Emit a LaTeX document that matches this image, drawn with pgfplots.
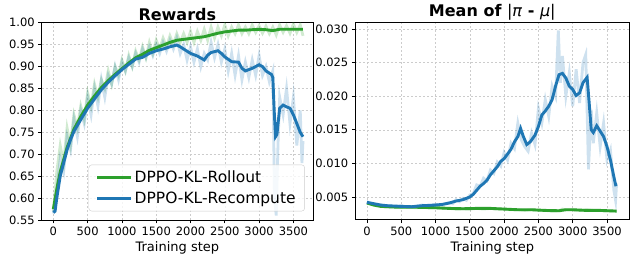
\documentclass[border=0pt]{standalone}
\usepackage{fontspec}
\setmainfont{DejaVu Sans}
\usepackage{pgfplots}
\pgfplotsset{compat=1.18}
\definecolor{tabblue}{HTML}{1F77B4}
\definecolor{tabgreen}{HTML}{2CA02C}
\pgfplotsset{mystyle/.style={
  scale only axis,
  axis line style={black, line width=0.8pt},
  grid=major,
  grid style={dash pattern=on 2pt off 2pt, black!20, line width=0.5pt},
  tick align=outside, xtick pos=bottom, ytick pos=left,
  major tick length=3.5pt,
  tick style={black, line width=0.8pt},
  xtick={0,500,1000,1500,2000,2500,3000,3500},
  ticklabel style={font=\fontsize{11.5}{13}\selectfont},
  /pgf/number format/assume math mode=true,
  x tick label style={/pgf/number format/1000 sep={}},
  xlabel={Training step},
  xlabel style={font=\fontsize{13}{15}\selectfont, yshift=1pt},
  title style={font=\fontsize{16}{18}\selectfont\bfseries, yshift=-8pt},
  rawline/.style={line width=2.8pt, opacity=0.22},
  smoothline/.style={line width=2.9pt},
}}
\begin{document}
\begin{tikzpicture}
\begin{axis}[mystyle,
  at={(41.7pt,36pt)}, anchor=south west,
  width=271.3pt, height=197.3pt,
  xmin=-170, xmax=3786, ymin=0.55, ymax=1.0,
  ytick={0.55,0.60,0.65,0.70,0.75,0.80,0.85,0.90,0.95,1.00},
  y tick label style={/pgf/number format/.cd, fixed, fixed zerofill, precision=2},
  title={Rewards},
  legend style={at={(0.97,0.044)}, anchor=south east, font=\fontsize{15.5}{18}\selectfont,
    draw=black!20, rounded corners=3pt, fill=white, fill opacity=0.8, text opacity=1,
    inner xsep=7pt, inner ysep=4pt, row sep=4pt},
  legend cell align=left,
  legend image code/.code={\draw[#1] (0pt,0pt) -- (34pt,0pt);},
]
% raw green
\addplot[tabgreen, rawline, forget plot] coordinates {
(0,0.57)(50,0.66)(100,0.72)(150,0.68)(200,0.76)(250,0.72)(300,0.79)(350,0.76)(400,0.81)(450,0.78)
(500,0.84)(550,0.81)(600,0.86)(650,0.83)(700,0.87)(750,0.85)(800,0.89)(850,0.86)(900,0.90)(950,0.88)
(1000,0.915)(1050,0.89)(1100,0.925)(1150,0.90)(1200,0.935)(1250,0.915)(1300,0.945)(1350,0.92)(1400,0.955)(1450,0.93)
(1500,0.96)(1550,0.94)(1600,0.965)(1650,0.945)(1700,0.97)(1750,0.95)(1800,0.975)(1850,0.955)(1900,0.975)(1950,0.955)
(2000,0.98)(2050,0.955)(2100,0.98)(2150,0.96)(2200,0.985)(2250,0.96)(2300,0.99)(2350,0.965)(2400,0.99)(2450,0.97)
(2500,0.995)(2550,0.97)(2600,0.99)(2650,0.975)(2700,0.995)(2750,0.975)(2800,0.99)(2850,0.975)(2900,0.995)(2950,0.978)
(3000,0.993)(3050,0.976)(3100,0.992)(3150,0.975)(3200,0.99)(3250,0.972)(3300,0.995)(3350,0.978)(3400,0.993)(3450,0.976)
(3500,0.997)(3550,0.978)(3600,0.995)(3640,0.97)};
% raw blue
\addplot[tabblue, rawline, forget plot] coordinates {
(0,0.565)(50,0.62)(100,0.69)(150,0.66)(200,0.74)(250,0.71)(300,0.78)(350,0.74)(400,0.80)(450,0.77)
(500,0.83)(550,0.79)(600,0.85)(650,0.81)(700,0.87)(750,0.83)(800,0.88)(850,0.86)(900,0.90)(950,0.87)
(1000,0.91)(1050,0.89)(1100,0.92)(1150,0.90)(1200,0.93)(1250,0.91)(1300,0.94)(1350,0.92)(1400,0.945)(1450,0.925)
(1500,0.95)(1550,0.93)(1600,0.955)(1650,0.935)(1700,0.96)(1750,0.94)(1800,0.965)(1850,0.93)(1900,0.95)(1950,0.915)
(2000,0.945)(2050,0.91)(2100,0.94)(2150,0.90)(2200,0.93)(2250,0.915)(2300,0.955)(2350,0.92)(2400,0.95)(2450,0.91)
(2500,0.94)(2550,0.89)(2600,0.93)(2650,0.88)(2700,0.925)(2750,0.87)(2800,0.91)(2850,0.875)(2900,0.915)(2950,0.88)
(3000,0.925)(3050,0.88)(3100,0.90)(3150,0.865)(3200,0.89)(3225,0.60)(3250,0.56)(3275,0.72)(3300,0.83)(3350,0.79)
(3400,0.85)(3450,0.77)(3500,0.83)(3550,0.72)(3600,0.80)(3625,0.68)(3640,0.73)};
% smoothed green
\addplot[tabgreen, smoothline] coordinates {
(0,0.575)(50,0.62)(100,0.660)(200,0.715)(300,0.757)(400,0.786)(500,0.812)(600,0.833)(700,0.852)(800,0.868)
(900,0.882)(1000,0.895)(1100,0.908)(1200,0.920)(1300,0.928)(1400,0.937)(1500,0.943)(1600,0.949)(1700,0.955)(1800,0.960)
(1900,0.962)(2000,0.964)(2100,0.966)(2200,0.968)(2300,0.972)(2400,0.976)(2500,0.979)(2600,0.981)(2700,0.983)(2800,0.983)
(2900,0.984)(3000,0.985)(3100,0.984)(3200,0.982)(3300,0.985)(3400,0.985)(3500,0.985)(3640,0.985)};
\addlegendentry{DPPO-KL-Rollout}
% smoothed blue
\addplot[tabblue, smoothline] coordinates {
(0,0.567)(25,0.570)(50,0.60)(100,0.650)(150,0.680)(200,0.710)(250,0.733)(300,0.752)(400,0.779)(500,0.805)
(600,0.826)(700,0.847)(800,0.864)(900,0.879)(1000,0.893)(1100,0.905)(1200,0.917)(1300,0.921)(1400,0.930)(1500,0.936)
(1600,0.940)(1700,0.945)(1800,0.949)(1850,0.945)(1900,0.940)(2000,0.930)(2100,0.924)(2200,0.915)(2250,0.926)(2300,0.932)
(2400,0.936)(2450,0.930)(2500,0.922)(2600,0.911)(2700,0.910)(2750,0.896)(2800,0.890)(2900,0.896)(3000,0.904)(3050,0.900)
(3100,0.890)(3180,0.882)(3200,0.875)(3220,0.80)(3240,0.740)(3260,0.745)(3300,0.805)(3350,0.812)(3400,0.808)(3450,0.805)
(3500,0.790)(3550,0.770)(3600,0.750)(3640,0.740)};
\addlegendentry{DPPO-KL-Recompute}
\end{axis}

\begin{axis}[mystyle,
  at={(355.3pt,36.3pt)}, anchor=south west,
  width=274pt, height=197.4pt,
  xmin=-170, xmax=3825, ymin=0.00162, ymax=0.031,
  ytick={0.005,0.010,0.015,0.020,0.025,0.030},
  scaled y ticks=false,
  y tick label style={/pgf/number format/.cd, fixed, fixed zerofill, precision=3},
  title={Mean of {\mdseries|\textit{π}} - {\mdseries\textit{μ}|}},
]
% raw green
\addplot[tabgreen, rawline, forget plot] coordinates {
(0,0.0041)(100,0.0038)(200,0.0036)(300,0.0035)(400,0.0035)(500,0.00345)(600,0.0035)(700,0.0034)(800,0.00345)(900,0.0034)
(1000,0.0034)(1100,0.0033)(1200,0.0033)(1300,0.0032)(1400,0.00325)(1500,0.0032)(1600,0.0033)(1700,0.0032)(1800,0.0033)(1900,0.0032)
(2000,0.0032)(2100,0.0031)(2200,0.0031)(2300,0.0030)(2400,0.0031)(2500,0.0030)(2600,0.0030)(2700,0.0029)(2800,0.00295)(2850,0.0032)
(2900,0.0031)(3000,0.0031)(3100,0.0030)(3200,0.0031)(3300,0.0030)(3400,0.0030)(3500,0.0029)(3640,0.0029)};
% raw blue
\addplot[tabblue, rawline, forget plot] coordinates {
(0,0.0043)(50,0.0041)(100,0.0040)(150,0.0039)(200,0.0038)(300,0.0037)(400,0.0036)(500,0.0037)(600,0.0035)(700,0.0036)
(800,0.0038)(900,0.0037)(1000,0.0039)(1100,0.0038)(1200,0.0042)(1250,0.0040)(1300,0.0046)(1350,0.0043)(1400,0.0048)(1450,0.0045)
(1500,0.0053)(1550,0.0055)(1600,0.0068)(1650,0.0066)(1700,0.0078)(1750,0.0074)(1800,0.0090)(1850,0.0085)(1900,0.0102)(1950,0.0096)
(2000,0.0116)(2050,0.0105)(2100,0.0130)(2150,0.0122)(2200,0.0160)(2250,0.0135)(2300,0.0125)(2350,0.0118)(2400,0.0145)(2450,0.0128)
(2500,0.0182)(2550,0.0160)(2600,0.0195)(2650,0.0170)(2700,0.0215)(2750,0.0200)(2790,0.0298)(2820,0.0220)(2850,0.0260)(2900,0.0200)
(2950,0.0235)(3000,0.0185)(3050,0.0240)(3100,0.0190)(3150,0.0250)(3190,0.0262)(3230,0.0091)(3270,0.0180)(3300,0.0130)(3350,0.0175)
(3400,0.0125)(3450,0.0160)(3500,0.0105)(3550,0.0120)(3600,0.0060)(3625,0.0045)(3640,0.0070)};
% smoothed green
\addplot[tabgreen, smoothline] coordinates {
(0,0.0041)(100,0.0038)(200,0.0036)(400,0.0035)(600,0.0035)(800,0.00345)(1000,0.0034)(1200,0.0033)(1400,0.00325)(1600,0.0033)
(1800,0.0033)(2000,0.0032)(2200,0.0031)(2400,0.0031)(2600,0.0030)(2800,0.00295)(2900,0.0031)(3000,0.0031)(3200,0.0030)(3400,0.0030)(3640,0.0029)};
% smoothed blue
\addplot[tabblue, smoothline] coordinates {
(0,0.0042)(100,0.0040)(200,0.0038)(300,0.0037)(500,0.0036)(650,0.00355)(800,0.0037)(1000,0.0038)(1100,0.0039)(1200,0.0041)
(1300,0.0044)(1400,0.0046)(1500,0.0050)(1550,0.0054)(1600,0.0060)(1650,0.0066)(1700,0.0070)(1750,0.0075)(1800,0.0083)(1850,0.0089)
(1900,0.0095)(1950,0.0103)(2000,0.0107)(2050,0.0114)(2100,0.0121)(2150,0.0132)(2200,0.0140)(2240,0.0152)(2280,0.0140)(2330,0.0128)
(2380,0.0132)(2450,0.0142)(2500,0.0155)(2550,0.0172)(2600,0.0178)(2650,0.0185)(2700,0.0195)(2750,0.0215)(2800,0.0232)(2850,0.0234)
(2900,0.0227)(2950,0.0215)(3000,0.0210)(3050,0.0201)(3100,0.0205)(3150,0.0220)(3210,0.0228)(3240,0.0190)(3270,0.0150)(3300,0.0146)
(3350,0.0156)(3400,0.0148)(3450,0.0140)(3500,0.0125)(3550,0.0105)(3600,0.0080)(3630,0.0066)};
\end{axis}
\pgfresetboundingbox
\path[use as bounding box] (0,0) rectangle (632pt,256pt);
\end{tikzpicture}
\end{document}
